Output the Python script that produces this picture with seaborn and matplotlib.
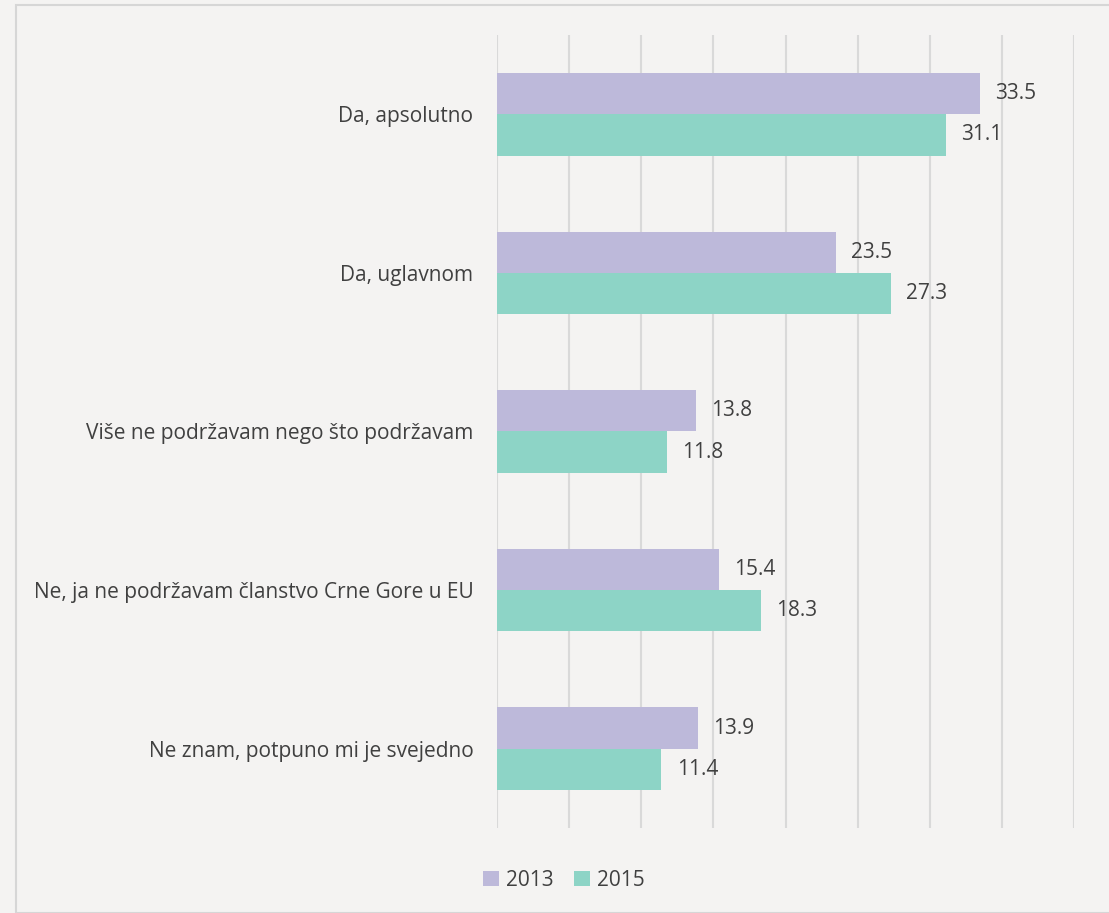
import matplotlib
matplotlib.use("Agg")
import matplotlib.pyplot as plt
import seaborn as sns
import pandas as pd
from matplotlib.patches import Rectangle

categories = [
    "Da, apsolutno",
    "Da, uglavnom",
    "Više ne podržavam nego što podržavam",
    "Ne, ja ne podržavam članstvo Crne Gore u EU",
    "Ne znam, potpuno mi je svejedno",
]
years = ["2013", "2015"]
values_2013 = [33.5, 23.5, 13.8, 15.4, 13.9]
values_2015 = [31.1, 27.3, 11.8, 18.3, 11.4]
colors = ["#bdb9da", "#8dd4c6"]

df = pd.DataFrame({
    "category": categories * 2,
    "year": [years[0]] * 5 + [years[1]] * 5,
    "value": values_2013 + values_2015,
})

sns.set_style("white")
plt.rcParams["font.family"] = ["Open Sans", "DejaVu Sans"]
text_color = "#404040"
fs = 15

fig = plt.figure(figsize=(11.09, 9.13), dpi=100)
fig.patch.set_facecolor("#f4f3f2")
fig.patches.append(Rectangle((16 / 1109, 0.0), 1.0, 1 - 5 / 913, transform=fig.transFigure,
                             fill=False, edgecolor="#d6d6d6", linewidth=1.5, zorder=0))

ax = fig.add_axes([497 / 1109, 1 - 828 / 913, (1074 - 497) / 1109, (828 - 35) / 913])
ax.set_facecolor("none")

sns.barplot(data=df, y="category", x="value", hue="year", palette=colors,
            orient="h", width=0.52, ax=ax, saturation=1, linewidth=0, legend=True)

ax.set_xlim(0, 40)
ax.set_ylim(4.5, -0.5)
ax.set_xticks(range(0, 41, 5))
ax.xaxis.grid(True, color="#d9d9d9", linewidth=1.5)
ax.set_axisbelow(True)
ax.set_xticklabels([])
ax.tick_params(axis="x", length=0)
ax.tick_params(axis="y", length=0, pad=17, labelsize=fs, labelcolor=text_color)
for s in ax.spines.values():
    s.set_visible(False)
ax.set_xlabel("")
ax.set_ylabel("")

for cont in ax.containers:
    ax.bar_label(cont, fmt="%.1f", padding=11, fontsize=fs, color=text_color)

handles, labels = ax.get_legend_handles_labels()
ax.legend_.remove()
fig.legend(handles, labels, loc="center", bbox_to_anchor=(564 / 1109, 1 - 880 / 913),
           ncol=2, frameon=False, fontsize=fs, labelcolor=text_color,
           handlelength=0.75, handleheight=0.75, handletextpad=0.35, columnspacing=1.0)

fig.savefig("out.png", dpi=100, facecolor=fig.get_facecolor())
